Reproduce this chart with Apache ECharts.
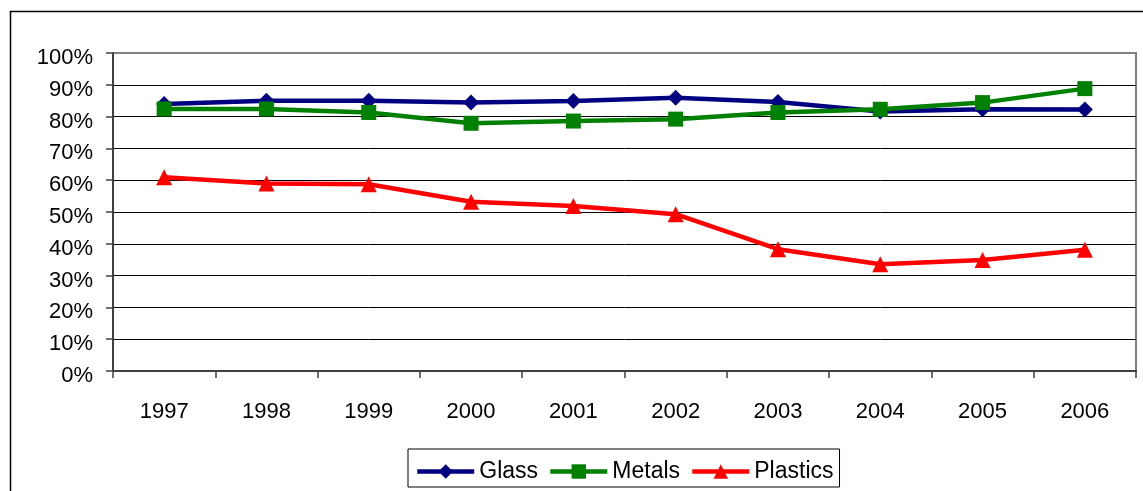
<!DOCTYPE html>
<html>
<head>
<meta charset="utf-8">
<title>Recycling rates 1997–2006</title>
<script src="https://cdn.jsdelivr.net/npm/echarts@6/dist/echarts.min.js"></script>
<style>
  html, body { margin: 0; padding: 0; background: #fff; }
  #chart { width: 1143px; height: 491px; }
</style>
</head>
<body>
<div id="chart"></div>
<script>
// Years on the category axis
var years = ['1997', '1998', '1999', '2000', '2001', '2002', '2003', '2004', '2005', '2006'];

// Rates per material, in percent
var glass    = [84.0, 85.0, 85.0, 84.4, 84.9, 85.9, 84.6, 81.6, 82.3, 82.2];
var metals   = [82.4, 82.4, 81.3, 77.9, 78.6, 79.2, 81.3, 82.3, 84.4, 88.8];
var plastics = [60.9, 59.0, 58.7, 53.2, 51.9, 49.3, 38.3, 33.6, 34.9, 38.1];

// Y axis ticks
var yMin = 0, yMax = 100, yStep = 10;

var font = "'Liberation Sans', Arial, sans-serif";

var chart = echarts.init(document.getElementById('chart'), null, { renderer: 'canvas' });

// Split line colours: black, except the top line which belongs to the grey frame
var splitColors = [];
for (var v = yMin; v <= yMax; v += yStep) {
  splitColors.push(v === yMax ? '#808080' : '#000000');
}

function lineSeries(name, data, color, symbol, size) {
  return {
    name: name,
    type: 'line',
    data: data,
    symbol: symbol,
    symbolSize: size,
    showSymbol: true,
    animation: false,
    lineStyle: { color: color, width: 4.5 },
    itemStyle: { color: color, borderWidth: 0 },
    emphasis: { disabled: true }
  };
}

chart.setOption({
  backgroundColor: '#ffffff',
  animation: false,
  textStyle: { fontFamily: font, color: '#000' },
  graphic: [{
    type: 'rect',
    shape: { x: 10.5, y: 11.5, width: 1200, height: 600 },
    style: { fill: 'none', stroke: '#000', lineWidth: 1.5 },
    silent: true,
    z: -1
  }],
  grid: {
    left: 113, top: 53, right: 7, bottom: 120,
    show: true,
    borderColor: '#808080',
    borderWidth: 2,
    backgroundColor: 'transparent'
  },
  legend: {
    left: 408,
    top: 449,
    orient: 'horizontal',
    itemWidth: 57,
    itemHeight: 18,
    itemGap: 10,
    padding: [11, 6, 4, 7],
    borderColor: '#000',
    borderWidth: 1,
    lineStyle: { width: 4.5 },
    textStyle: { fontSize: 23, fontFamily: font, color: '#000' },
    data: ['Glass', 'Metals', 'Plastics']
  },
  xAxis: {
    type: 'category',
    data: years,
    boundaryGap: true,
    axisLine: { show: true, lineStyle: { color: '#404040', width: 2 } },
    axisTick: { show: true, length: 7, interval: 0, lineStyle: { color: '#404040', width: 1.5 } },
    axisLabel: { fontSize: 22, fontFamily: font, color: '#000', margin: 30, interval: 0 },
    splitLine: { show: false }
  },
  yAxis: {
    type: 'value',
    min: yMin,
    max: yMax,
    interval: yStep,
    axisLine: { show: true, lineStyle: { color: '#404040', width: 2 } },
    axisTick: { show: true, length: 7, lineStyle: { color: '#404040', width: 1.5 } },
    axisLabel: {
      fontSize: 22, fontFamily: font, color: '#000', margin: 20,
      formatter: function (value) { return '{v|' + value + '%}'; },
      rich: { v: { fontSize: 22, fontFamily: font, color: '#000', padding: [10, 0, 0, 0] } }
    },
    splitLine: { show: true, lineStyle: { color: splitColors, width: 1 } }
  },
  series: [
    lineSeries('Glass', glass, '#000080', 'diamond', 16),
    lineSeries('Metals', metals, '#008000', 'rect', 15),
    lineSeries('Plastics', plastics, '#ff0000', 'triangle', 16)
  ]
});
</script>
</body>
</html>
